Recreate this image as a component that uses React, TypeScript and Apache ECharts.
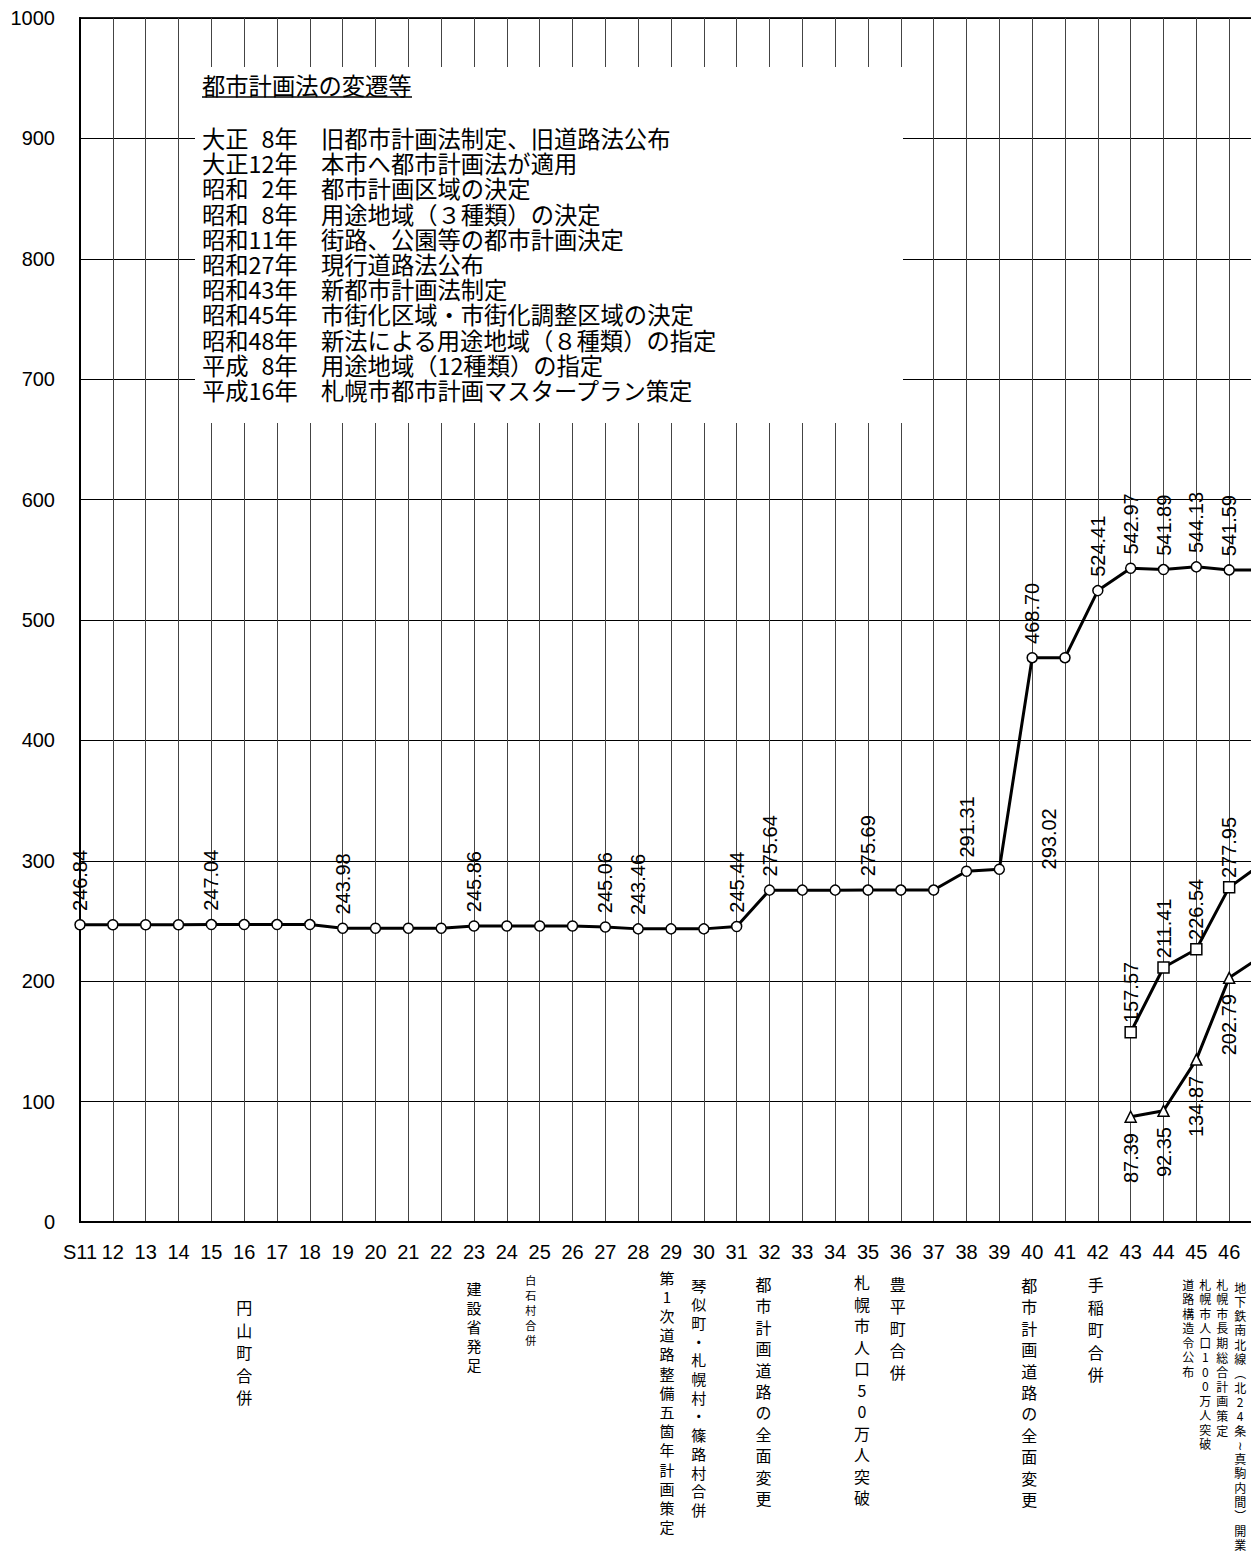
import React, { useEffect, useRef } from 'react';
import * as echarts from 'echarts';

const categories = ['S11', '12', '13', '14', '15', '16', '17', '18', '19', '20', '21', '22', '23', '24', '25', '26', '27', '28', '29', '30', '31', '32', '33', '34', '35', '36', '37', '38', '39', '40', '41', '42', '43', '44', '45', '46', '47'];
const hiddenCategoryLabels = ['47'];

const mainValues = [246.84, 246.84, 246.84, 246.84, 247.04, 247.04, 247.04, 247.04, 243.98, 243.98, 243.98, 243.98, 245.86, 245.86, 245.86, 245.86, 245.06, 243.46, 243.46, 243.46, 245.44, 275.64, 275.64, 275.64, 275.69, 275.69, 275.69, 291.31, 293.02, 468.70, 468.70, 524.41, 542.97, 541.89, 544.13, 541.59, 541.4];
const mainLabeled = [0, 4, 8, 12, 16, 17, 20, 21, 24, 27, 28, 29, 31, 32, 33, 34, 35];

const squareStart = '43';
const squareValues = [157.57, 211.41, 226.54, 277.95, 297.6];
const squareLabeledCount = 4;

const triangleStart = '43';
const triangleValues = [87.39, 92.35, 134.87, 202.79, 221.0];
const triangleLabeledCount = 4;

const yTicks = { min: 0, max: 1000, interval: 100 };

const historyTitle = '都市計画法の変遷等';
const historyYears = ['大正\u20078年', '大正12年', '昭和\u20072年', '昭和\u20078年', '昭和11年', '昭和27年', '昭和43年', '昭和45年', '昭和48年', '平成\u20078年', '平成16年'];
const historyEvents = [
  '旧都市計画法制定、旧道路法公布',
  '本市へ都市計画法が適用',
  '都市計画区域の決定',
  '用途地域（３種類）の決定',
  '街路、公園等の都市計画決定',
  '現行道路法公布',
  '新都市計画法制定',
  '市街化区域・市街化調整区域の決定',
  '新法による用途地域（８種類）の指定',
  '用途地域（12種類）の指定',
  '札幌市都市計画マスタープラン策定',
];

const eventCats = ['16', '23', '25', '29', '30', '32', '35', '36', '40', '42', '45', '45', '46', '46'];
const eventTexts = [
  '円山町合併',
  '建設省発足',
  '白石村合併',
  '第1次道路整備五箇年計画策定',
  '琴似町・札幌村・篠路村合併',
  '都市計画道路の全面変更',
  '札幌市人口50万人突破',
  '豊平町合併',
  '都市計画道路の全面変更',
  '手稲町合併',
  '道路構造令公布',
  '札幌市人口100万人突破',
  '札幌市長期総合計画策定',
  '地下鉄南北線︵北24条≀真駒内間︶開業',
];
// layout of the vertical annotations: [dx, firstCharCenterY, fontSize, pitch]
const eventLayout = [
  [0, 1307, 16, 22.5],
  [0, 1288, 15, 19],
  [-9, 1280, 11, 15],
  [-4, 1277, 15, 19.2],
  [-5, 1285, 15, 18.7],
  [-6, 1284, 16, 21.4],
  [-6, 1282, 16, 21.5],
  [-3, 1284, 16, 22],
  [-3, 1285, 16, 21.4],
  [-2, 1284, 16, 22.5],
  [-8, 1284, 12, 14.5],
  [9, 1284, 12, 14.5],
  [-7, 1284, 12, 14.6],
  [11, 1287, 12, 14.3],
];

const NUM_FONT = '"Liberation Sans", Arial, sans-serif';
const JP_FONT = '"Noto Sans CJK JP", "DejaVu Sans", "Liberation Sans", sans-serif';

function padSeries(start: string, vals: number[]) {
  const s = categories.indexOf(start);
  return categories.map((_, i) => (i >= s && i - s < vals.length ? vals[i - s] : null));
}

export default function App() {
  const ref = useRef<HTMLDivElement>(null);
  useEffect(() => {
    const chart = echarts.init(ref.current!, null, { renderer: 'svg' });

    const labelBase = {
      show: false,
      rotate: 90,
      color: '#000',
      fontSize: 20,
      fontFamily: NUM_FONT,
      formatter: (p: any) => (typeof p.value === 'number' ? p.value.toFixed(2) : ''),
    };

    const mainData = mainValues.map((v, i) => {
      if (!mainLabeled.includes(i)) return { value: v };
      const item: any = { value: v, label: { show: true } };
      // this label sits to the right of its point in the original
      if (i === 28) item.label = { show: true, offset: [-14, 50] };
      return item;
    });

    const sqS = categories.indexOf(squareStart);
    const squareData = padSeries(squareStart, squareValues).map((v, i) =>
      v === null ? null : { value: v, label: { show: i - sqS < squareLabeledCount } }
    );
    const trS = categories.indexOf(triangleStart);
    const triangleData = padSeries(triangleStart, triangleValues).map((v, i) =>
      v === null ? null : { value: v, label: { show: i - trS < triangleLabeledCount } }
    );

    const option: any = {
      animation: false,
      backgroundColor: '#fff',
      grid: {
        left: 80,
        top: 18,
        right: 38,
        bottom: 336,
        show: true,
        borderColor: '#222',
        borderWidth: 2,
        backgroundColor: 'transparent',
      },
      xAxis: {
        type: 'category',
        data: categories,
        boundaryGap: false,
        axisLine: { show: true, lineStyle: { color: '#000', width: 2 } },
        axisTick: { show: false },
        axisLabel: {
          interval: 0,
          color: '#000',
          fontSize: 20,
          fontFamily: NUM_FONT,
          margin: 20,
          formatter: (v: string) => (hiddenCategoryLabels.includes(v) ? '' : v),
        },
        splitLine: { show: true, interval: 0, lineStyle: { color: '#444', width: 1 } },
      },
      yAxis: {
        type: 'value',
        min: yTicks.min,
        max: yTicks.max,
        interval: yTicks.interval,
        axisLine: { show: true, lineStyle: { color: '#000', width: 2 } },
        axisTick: { show: false },
        axisLabel: { color: '#000', fontSize: 20, fontFamily: NUM_FONT, margin: 25, formatter: (v: number) => String(v) },
        splitLine: { show: true, lineStyle: { color: '#000', width: 1 } },
      },
      series: [
        {
          type: 'line',
          data: mainData,
          symbol: 'circle',
          symbolSize: 10,
          showAllSymbol: true,
          lineStyle: { color: '#000', width: 3 },
          itemStyle: { color: '#fff', borderColor: '#000', borderWidth: 1.5 },
          label: { ...labelBase, position: 'top', align: 'left', verticalAlign: 'middle', distance: 8 },
          emphasis: { disabled: true },
          z: 5,
        },
        {
          type: 'line',
          data: squareData,
          symbol: 'rect',
          symbolSize: 11,
          showAllSymbol: true,
          lineStyle: { color: '#000', width: 3 },
          itemStyle: { color: '#fff', borderColor: '#000', borderWidth: 1.5 },
          label: { ...labelBase, position: 'top', align: 'left', verticalAlign: 'middle', distance: 3 },
          emphasis: { disabled: true },
          z: 5,
        },
        {
          type: 'line',
          data: triangleData,
          symbol: 'triangle',
          symbolSize: 11,
          showAllSymbol: true,
          lineStyle: { color: '#000', width: 3 },
          itemStyle: { color: '#fff', borderColor: '#000', borderWidth: 1.5 },
          label: { ...labelBase, position: 'bottom', align: 'right', verticalAlign: 'middle', distance: 10 },
          emphasis: { disabled: true },
          z: 5,
        },
      ],
    };
    chart.setOption(option);

    const rowPitch = 25.2;
    const firstRowCenter = 138;
    const boxFont = 23.3;

    const graphics: any[] = [];
    // white box with the history list
    graphics.push({ type: 'rect', shape: { x: 195, y: 67, width: 708, height: 356 }, style: { fill: '#fff' }, z: 50 });
    graphics.push({
      type: 'text',
      z: 51,
      style: { text: historyTitle, x: 202, y: 85, fill: '#000', fontSize: boxFont, lineHeight: 24, fontFamily: JP_FONT, align: 'left', verticalAlign: 'middle' },
    });
    graphics.push({ type: 'line', z: 51, shape: { x1: 202, y1: 97, x2: 412, y2: 97 }, style: { stroke: '#000', lineWidth: 1.5 } });
    graphics.push({
      type: 'text',
      z: 51,
      style: {
        text: historyYears.join('\n'),
        x: 202,
        y: firstRowCenter - rowPitch / 2,
        fill: '#000',
        fontSize: boxFont,
        lineHeight: rowPitch,
        fontFamily: JP_FONT,
        align: 'left',
        verticalAlign: 'top',
      },
    });
    graphics.push({
      type: 'text',
      z: 51,
      style: {
        text: historyEvents.join('\n'),
        x: 321,
        y: firstRowCenter - rowPitch / 2,
        fill: '#000',
        fontSize: boxFont,
        lineHeight: rowPitch,
        fontFamily: JP_FONT,
        align: 'left',
        verticalAlign: 'top',
      },
    });

    // vertical annotations under the x axis
    eventTexts.forEach((t, i) => {
      const [dx, cy, fs, pitch] = eventLayout[i];
      const cx = chart.convertToPixel({ xAxisIndex: 0 }, categories.indexOf(eventCats[i])) as number;
      graphics.push({
        type: 'text',
        z: 51,
        style: {
          text: Array.from(t).join('\n'),
          x: cx + dx,
          y: cy - pitch / 2,
          fill: '#000',
          fontSize: fs,
          fontFamily: JP_FONT,
          align: 'center',
          verticalAlign: 'top',
          lineHeight: pitch,
        },
      });
    });

    chart.setOption({ graphic: graphics });
    return () => chart.dispose();
  }, []);

  return (
    <div style={{ position: 'absolute', left: 0, top: 0, width: 1251, height: 1558, overflow: 'hidden', background: '#fff' }}>
      <div ref={ref} style={{ width: 1300, height: 1558 }} />
    </div>
  );
}
